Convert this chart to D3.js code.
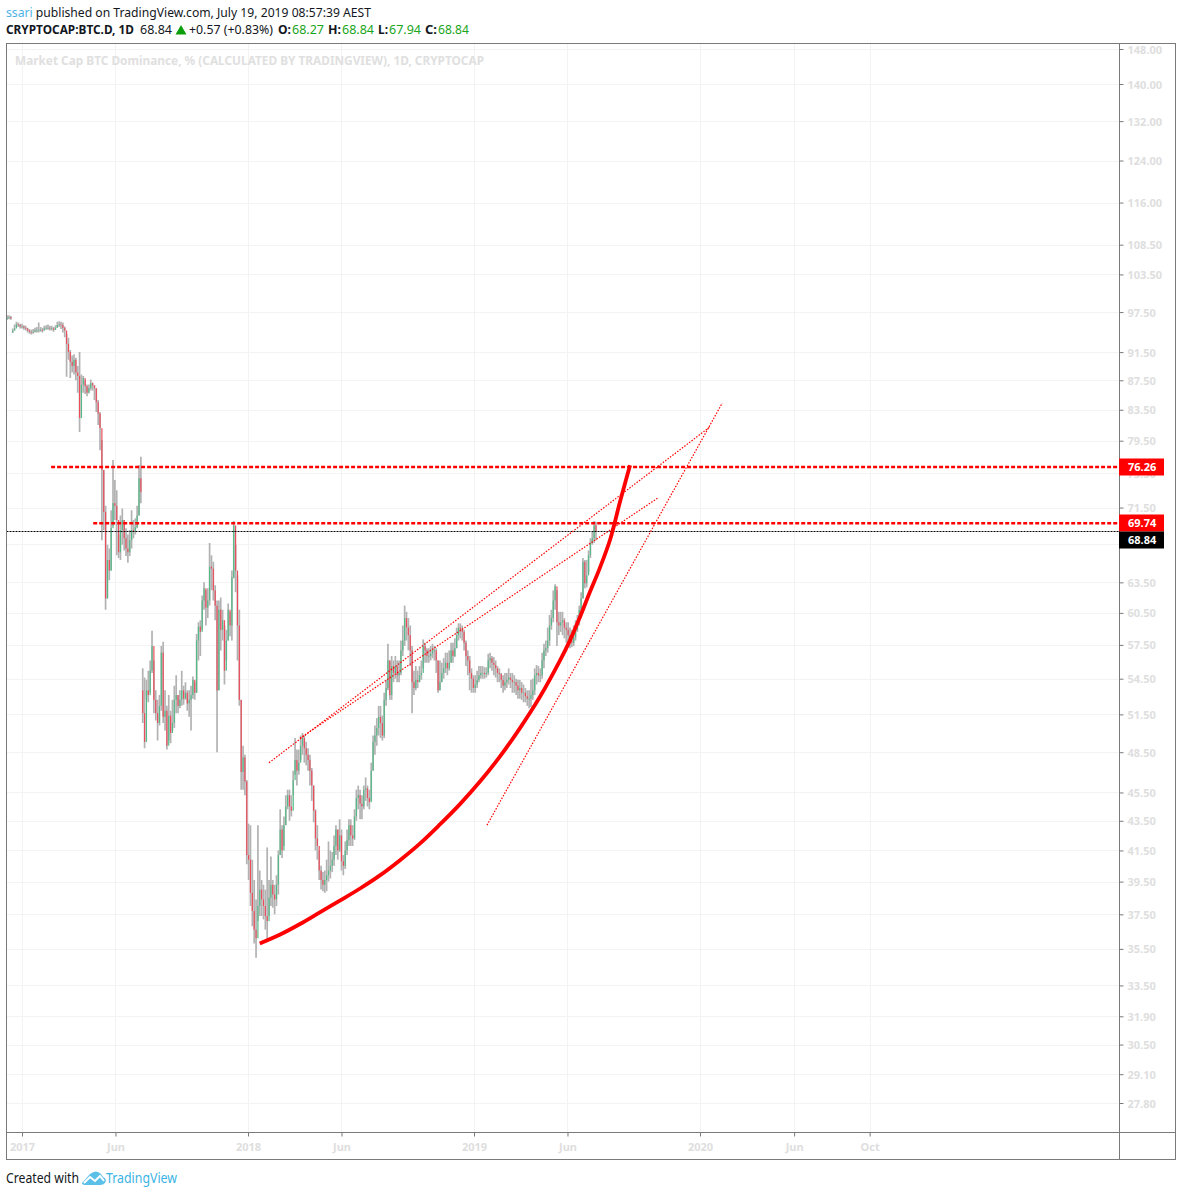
<!DOCTYPE html>
<html><head><meta charset="utf-8">
<script src="https://cdn.jsdelivr.net/npm/d3@7"></script>
<style>
html,body{margin:0;padding:0;background:#fff}
svg{display:block}
text{font-family:"Noto Sans",sans-serif}
</style></head><body><svg id="c" width="1182" height="1196"></svg>
<script>
// ---------- data ----------
const seriesStart = "2016-12-08";
const candleStepDays = 3;
const closes = [
96.6,96.7,96.5,94.7,95.0,95.6,95.5,95.3,95.3,95.1,95.0,94.7,94.5,94.4,94.5,94.7,94.7,94.8,94.8,94.7,
95.0,95.1,95.1,95.0,95.0,94.8,95.1,95.5,95.6,95.5,95.1,94.7,
92.7,91.5,90.1,89.5,90.4,88.6,88.1,82.4,86.9,87.8,86.7,85.8,86.4,87.1,86.8,86.4,84.5,83.0,81.1,75.9,71.0,61.9,65.8,64.7,69.2,72.0,71.7,70.1,66.6,69.0,70.1,68.1,67.0,66.6,67.9,69.0,68.8,69.3,70.6,74.9,73.3,
51.6,49.3,53.5,53.1,55.2,57.4,52.7,51.6,50.8,52.2,56.8,51.3,51.8,49.0,51.4,50.0,50.8,52.7,53.1,52.2,52.7,53.5,52.8,53.3,52.4,52.7,53.1,54.4,53.3,57.9,59.2,58.7,61.7,62.9,61.0,61.7,65.1,64.9,62.7,61.2,53.5,60.8,58.9,59.8,55.2,57.9,60.8,59.3,64.0,69.5,64.7,59.3,52.7,47.0,48.1,46.3,41.2,40.9,38.8,37.7,36.6,36.1,38.0,39.0,38.4,38.0,37.4,37.1,38.5,39.3,38.7,38.4,39.3,41.2,42.9,41.5,43.2,44.5,45.3,44.5,44.2,46.4,47.9,47.1,47.7,49.0,49.6,48.8,48.3,47.9,47.1,46.0,44.2,42.3,41.8,40.2,39.6,39.3,39.6,39.9,40.2,40.5,40.9,41.8,42.9,41.5,42.5,40.8,40.5,41.5,42.2,43.2,42.5,42.3,43.8,45.1,45.3,44.7,44.5,45.7,45.8,45.1,44.8,47.1,49.3,49.8,50.4,51.3,50.8,49.8,52.7,53.7,56.1,53.1,55.6,55.0,55.6,54.8,55.0,57.0,57.9,60.0,59.1,58.4,57.0,54.2,53.7,54.4,54.2,54.8,55.0,57.4,57.0,56.5,56.5,56.7,57.0,57.0,56.1,53.5,54.2,55.0,55.4,55.9,55.4,55.9,57.0,56.5,57.2,58.4,59.1,58.9,58.7,57.7,56.5,56.1,55.0,54.5,53.7,54.0,54.4,54.8,55.0,55.0,54.9,55.0,56.1,56.3,55.9,55.7,55.4,55.0,54.9,54.4,53.9,54.2,54.4,54.6,54.4,54.2,54.2,53.9,53.5,53.7,53.3,53.3,53.0,52.8,52.8,53.1,53.5,54.8,55.0,54.8,54.8,56.1,57.0,57.2,57.9,59.3,60.0,61.7,63.1,59.6,59.3,59.6,59.8,59.1,58.9,58.4,57.9,57.7,58.2,58.9,59.6,60.8,61.9,65.6,63.4,64.2,66.3,67.6,68.1,69.5,68.84];
const highs = [
97.0,97.0,96.9,95.0,95.6,96.0,95.9,95.7,95.7,95.5,95.4,95.1,94.9,94.8,94.9,95.1,95.2,95.9,95.2,95.1,
95.4,95.5,95.6,95.4,95.4,95.2,95.5,96.0,96.1,96.0,95.9,95.3,
94.2,93.6,91.8,91.0,91.2,90.7,89.5,91.5,88.3,88.1,87.5,86.9,86.9,87.6,87.2,86.8,86.4,84.8,83.2,79.6,75.9,71.7,67.4,67.0,71.2,77.1,74.7,73.5,68.5,70.6,71.4,70.1,69.2,68.5,69.0,71.2,70.1,70.3,71.7,76.5,77.5,
55.4,54.6,54.4,55.2,56.1,58.8,56.1,53.5,52.7,53.1,57.4,57.8,53.5,52.2,53.1,51.8,52.7,53.9,54.8,53.1,53.5,55.2,53.9,54.2,53.5,53.5,53.9,54.7,54.2,58.5,59.6,59.8,62.2,63.5,62.7,62.9,67.6,66.3,65.6,63.2,61.7,61.7,62.0,60.8,59.3,58.9,61.4,60.6,64.7,70.0,67.4,64.2,60.8,52.7,49.0,48.3,46.4,43.3,43.2,40.9,39.6,38.4,43.2,40.2,39.6,39.3,39.0,41.7,39.6,41.1,39.6,39.3,39.9,41.5,44.3,43.2,43.8,45.3,45.7,45.7,45.3,47.1,49.6,48.7,48.7,49.8,50.0,49.8,49.3,48.8,48.3,47.3,46.0,44.3,43.2,41.5,40.5,40.1,40.2,40.9,42.1,41.5,41.4,42.5,43.2,42.9,43.6,42.9,41.2,42.1,42.9,43.6,43.6,43.2,44.3,45.7,46.0,45.7,45.3,46.0,46.6,46.0,45.7,47.7,49.8,50.6,51.2,52.2,52.2,51.4,53.3,54.4,57.6,56.1,56.5,56.1,56.5,56.1,56.1,57.9,59.3,61.2,60.6,60.0,59.3,57.4,55.2,55.6,55.2,55.6,56.1,58.0,57.7,57.2,57.2,57.4,57.6,57.4,57.2,56.1,56.1,55.9,56.3,56.8,56.8,57.0,57.7,57.7,58.1,59.1,59.5,59.5,59.3,58.9,57.9,57.0,56.5,55.4,54.8,54.8,55.2,55.6,55.6,55.6,55.5,55.5,56.7,56.8,56.5,56.4,56.1,55.6,55.4,55.0,54.8,55.0,55.0,55.4,55.0,55.0,54.8,54.5,54.4,54.4,54.2,54.0,53.7,53.5,53.5,54.4,54.5,55.4,55.7,55.6,55.4,56.8,57.6,57.9,59.1,60.3,60.8,62.7,63.3,62.7,60.6,60.6,60.6,60.0,59.6,59.6,59.1,58.9,59.3,59.8,60.3,61.2,62.5,66.0,65.8,65.8,66.8,68.1,68.8,70.0,69.9];
const lows = [
96.3,96.4,96.3,94.3,94.7,95.2,95.2,95.0,95.0,94.8,94.7,94.4,94.2,94.1,94.2,94.4,94.4,94.4,94.5,94.4,
94.7,94.8,94.8,94.7,94.7,94.5,94.8,95.1,95.2,94.9,94.4,93.7,
88.0,90.4,87.8,88.6,88.3,87.5,85.8,80.6,85.8,85.8,85.6,85.3,85.7,86.1,86.1,84.8,83.2,81.5,78.3,67.9,69.0,60.8,61.9,63.7,64.7,69.5,70.1,66.3,66.0,65.8,67.4,66.8,66.2,65.5,66.2,67.0,68.1,68.5,69.2,70.6,72.0,
50.8,48.8,52.7,52.5,53.3,55.0,51.6,51.0,49.4,50.6,51.8,50.8,50.2,48.7,49.4,49.2,50.2,50.4,51.6,51.6,52.0,52.2,52.3,52.7,51.8,51.3,50.2,52.8,52.7,53.3,56.1,56.5,58.9,60.8,59.3,60.0,61.2,62.7,61.7,59.8,48.5,53.5,57.0,57.9,54.0,56.1,57.9,58.3,57.9,63.9,62.5,56.1,52.2,45.7,45.7,45.3,40.6,39.6,38.0,36.8,35.8,35.0,37.1,37.4,37.4,37.2,36.6,35.9,37.4,38.0,37.9,37.5,38.0,38.7,41.2,41.0,41.8,43.2,44.3,43.5,43.8,45.3,46.8,46.0,46.8,47.9,48.3,47.7,47.5,47.1,46.0,44.9,43.4,41.5,40.9,39.6,39.0,38.9,38.8,38.9,39.5,39.7,40.1,40.5,41.2,40.9,41.4,40.2,39.9,40.3,41.2,41.8,41.8,41.8,42.2,43.5,44.3,43.6,43.6,44.3,44.9,44.5,44.3,44.9,47.1,48.3,49.0,49.8,49.6,49.4,49.6,52.2,53.5,52.7,52.7,54.2,54.5,54.2,54.2,54.8,56.5,57.4,57.9,57.0,55.6,51.6,53.1,53.5,53.7,54.2,54.4,55.4,55.9,55.9,55.9,56.1,56.3,56.1,55.0,53.3,53.5,54.2,54.5,55.0,54.8,55.2,55.9,55.9,56.4,57.2,57.9,58.1,57.9,57.0,55.6,54.8,53.5,53.3,53.3,53.3,53.7,54.2,54.5,54.5,54.5,54.6,54.8,55.4,55.2,54.8,54.6,54.2,54.2,53.7,53.3,53.5,53.7,54.0,53.7,53.3,53.3,53.1,52.8,52.8,52.7,52.5,52.5,52.2,52.0,52.1,52.7,53.1,54.0,54.2,54.2,54.5,55.4,56.5,56.8,57.4,58.9,59.6,60.8,57.4,58.4,58.7,58.4,58.1,57.7,57.4,57.2,57.3,57.4,57.9,58.7,59.3,60.6,61.9,62.9,63.0,64.5,66.0,67.4,67.6,67.9];
// opening levels where a candle does not start from the previous close
const openBreaks = [[0,96.4],[3,94.4],[73,53.5]];

const yTicks = [148,140,132,124,116,108.5,103.5,97.5,91.5,87.5,83.5,79.5,75.5,71.5,67.5,63.5,60.5,57.5,54.5,51.5,48.5,45.5,43.5,41.5,39.5,37.5,35.5,33.5,31.9,30.5,29.1,27.8];
const xTickDates = ["2017-01-01","2017-06-01","2018-01-01","2018-06-01","2019-01-01","2019-06-01","2020-01-01","2020-06-01","2020-10-01"];
const xTickLabels = ["2017","Jun","2018","Jun","2019","Jun","2020","Jun","Oct"];

const curveDates = ["2018-01-20","2018-02-22","2018-03-26","2018-04-27","2018-05-30","2018-07-01","2018-08-02","2018-09-03","2018-10-06","2018-11-07","2018-12-09","2019-01-11","2019-02-12","2019-03-16","2019-04-18","2019-05-20","2019-06-05","2019-06-21","2019-07-07","2019-07-23","2019-08-09","2019-08-25","2019-09-10"];
const curveValues = [35.81,36.32,36.93,37.62,38.34,39.07,39.89,40.85,41.97,43.25,44.65,46.31,48.18,50.37,53.00,56.11,57.92,60.08,62.51,64.93,68.00,72.22,76.47];
const dottedLines = [
  {from:["2018-02-04",47.7],to:["2020-01-16",81.2]},
  {from:["2018-03-26",49.6],to:["2019-10-25",72.6]},
  {from:["2019-01-22",43.2],to:["2020-02-06",84.4]}
];
const hLevels = [{value:76.26,start:"2017-02-17"},{value:69.74,start:"2017-04-26"}];
const lastValue = 68.84;
const priceTags = [{value:76.26,fill:"#ff0000",below:0},{value:69.74,fill:"#ff0000",below:0},{value:68.84,fill:"#000000",below:9}];

// ---------- scales ----------
const parse = d3.utcParse("%Y-%m-%d");
const L = 6.5, T = 43.5, R = 1119.5, B = 1132.5, OR = 1175.5, OB = 1159.5;
const x = d3.scaleUtc().domain([parse("2017-01-01"),parse("2020-01-01")]).range([22,700]);
const y = d3.scaleLog().domain([148,27.8]).range([49,1103]);
const svg = d3.select("#c");
const axisCol = "#7a7a7a", labCol = "#dedede", gridCol = "#f3f3f3";

// clip
svg.append("clipPath").attr("id","plot").append("rect").attr("x",L).attr("y",T).attr("width",R-L).attr("height",B-T);

// grid
const grid = svg.append("g").attr("stroke",gridCol).attr("stroke-width",1);
grid.selectAll("line.h").data(yTicks).join("line").attr("class","h")
  .attr("x1",L).attr("x2",R).attr("y1",d=>Math.round(y(d))+.5).attr("y2",d=>Math.round(y(d))+.5);
grid.selectAll("line.v").data(xTickDates).join("line").attr("class","v")
  .attr("y1",T).attr("y2",B).attr("x1",d=>Math.round(x(parse(d)))+.5).attr("x2",d=>Math.round(x(parse(d)))+.5);

// title
svg.append("text").attr("x",15).attr("y",64.5).attr("fill","#e0e0e0").attr("font-weight",700).attr("font-size",12)
  .attr("textLength",469).attr("lengthAdjust","spacingAndGlyphs")
  .text("Market Cap BTC Dominance, % (CALCULATED BY TRADINGVIEW), 1D, CRYPTOCAP");

// candles
const breaks = new Map(openBreaks);
const candles = closes.map((c,i)=>({
  date:d3.utcDay.offset(parse(seriesStart),i*candleStepDays),
  open:breaks.has(i)?breaks.get(i):closes[i-1], close:c, high:highs[i], low:lows[i]}));
const plot = svg.append("g").attr("clip-path","url(#plot)");
plot.append("g").attr("stroke","#b2b2b2").attr("stroke-width",1.7)
  .selectAll("line").data(candles).join("line")
  .attr("x1",d=>x(d.date)).attr("x2",d=>x(d.date)).attr("y1",d=>y(d.high)).attr("y2",d=>y(d.low));
plot.append("g").selectAll("rect").data(candles).join("rect")
  .attr("x",d=>x(d.date)-.6).attr("width",1.2)
  .attr("y",d=>Math.min(y(d.open),y(d.close)))
  .attr("height",d=>Math.max(.8,Math.abs(y(d.open)-y(d.close))))
  .attr("fill",d=>d.close>=d.open?"#53b987":"#eb4d5c");

// last-value line
plot.append("line").attr("x1",L).attr("x2",R).attr("y1",Math.round(y(lastValue))+.5).attr("y2",Math.round(y(lastValue))+.5)
  .attr("stroke","#000").attr("stroke-width",1).attr("stroke-dasharray","2 1");

// drawings
plot.selectAll("line.d").data(dottedLines).join("line").attr("class","d")
  .attr("x1",d=>x(parse(d.from[0]))).attr("y1",d=>y(d.from[1]))
  .attr("x2",d=>x(parse(d.to[0]))).attr("y2",d=>y(d.to[1]))
  .attr("stroke","#ff0000").attr("stroke-width",1.2).attr("stroke-dasharray","1.5 1.5");
plot.selectAll("line.l").data(hLevels).join("line").attr("class","l")
  .attr("x1",d=>x(parse(d.start))).attr("x2",R).attr("y1",d=>y(d.value)).attr("y2",d=>y(d.value))
  .attr("stroke","#ff0000").attr("stroke-width",2.4).attr("stroke-dasharray","4 2");
const curve = d3.line().x(d=>x(parse(d[0]))).y(d=>y(d[1])).curve(d3.curveCatmullRom);
plot.append("path").attr("d",curve(curveDates.map((d,i)=>[d,curveValues[i]])))
  .attr("fill","none").attr("stroke","#ff0000").attr("stroke-width",3.8);

// axes
const axR = svg.append("g").attr("transform",`translate(${R},0)`)
  .call(d3.axisRight(y).tickValues(yTicks).tickSize(4).tickPadding(4).tickFormat(d3.format(".2f")));
const axB = svg.append("g").attr("transform",`translate(0,${B})`)
  .call(d3.axisBottom(x).tickValues(xTickDates.map(parse)).tickSize(4).tickPadding(7).tickFormat((d,i)=>xTickLabels[i]));
[axR,axB].forEach(a=>{
  a.selectAll(".tick line").attr("stroke",axisCol);
  a.selectAll("text").attr("fill",labCol).attr("font-size",11).attr("font-weight",700).attr("font-family",'"Noto Sans",sans-serif');
  a.select("path.domain").remove();
});
axR.selectAll("text").attr("transform","translate(0,0.5)");

// frame
svg.append("rect").attr("x",L).attr("y",T).attr("width",OR-L).attr("height",OB-T).attr("fill","none").attr("stroke",axisCol);
svg.append("line").attr("x1",R).attr("x2",R).attr("y1",T).attr("y2",OB).attr("stroke",axisCol);
svg.append("line").attr("x1",L).attr("x2",OR).attr("y1",B).attr("y2",B).attr("stroke",axisCol);

// price tags
const tags = svg.append("g").selectAll("g").data(priceTags).join("g");
tags.append("rect").attr("x",1119).attr("width",45).attr("height",17)
  .attr("y",d=>Math.round(y(d.value))+d.below-8.5).attr("fill",d=>d.fill);
tags.append("text").attr("x",1128).attr("y",d=>Math.round(y(d.value))+d.below+3.5)
  .attr("fill","#fff").attr("font-size",11).attr("font-weight",700).text(d=>d.value.toFixed(2));

// header
const h1 = svg.append("text").attr("x",6).attr("y",17).attr("font-size",13).attr("fill","#131722")
  .attr("textLength",365).attr("lengthAdjust","spacingAndGlyphs");
h1.append("tspan").attr("fill","#4db3e6").text("ssari");
h1.append("tspan").text(" published on TradingView.com, July 19, 2019 08:57:39 AEST");
const green = "#1aa51a", ink = "#131722";
const hdr = [
 ["CRYPTOCAP:BTC.D, 1D",6,700,ink,128],["68.84",140,400,ink,32],["+0.57 (+0.83%)",189,400,ink,84],
 ["O:",278,700,ink,13],["68.27",292,400,green,32],["H:",328,700,ink,13],["68.84",342,400,green,32],
 ["L:",378,700,ink,10],["67.94",389,400,green,32],["C:",425,700,ink,12],["68.84",438,400,green,31]];
svg.append("g").selectAll("text").data(hdr).join("text")
  .attr("x",d=>d[1]).attr("y",34).attr("font-size",12.5).attr("font-weight",d=>d[2]).attr("fill",d=>d[3])
  .attr("textLength",d=>d[4]).attr("lengthAdjust","spacingAndGlyphs").text(d=>d[0]);
svg.append("path").attr("d","M175.5 34.5L181 25L186.5 34.5Z").attr("fill","#0a9f0a");

// footer
svg.append("text").attr("x",6).attr("y",1183).attr("font-size",13.5).attr("fill",ink)
  .attr("textLength",73).attr("lengthAdjust","spacingAndGlyphs").text("Created with");
svg.append("path").attr("d","M82 1183L90 1174Q96 1169 101 1174L103 1177Q107 1179 105.5 1182Q104 1185 100 1185L86 1185Q82 1185 82 1183Z").attr("fill","#5bc0e8");
svg.append("path").attr("d","M84 1183L90 1177L95 1181L100 1176L104 1181").attr("fill","none").attr("stroke","#fff").attr("stroke-width",2);
svg.append("text").attr("x",106).attr("y",1183).attr("font-size",13.5).attr("fill","#3bb3e4")
  .attr("textLength",71).attr("lengthAdjust","spacingAndGlyphs").text("TradingView");
</script></body></html>
